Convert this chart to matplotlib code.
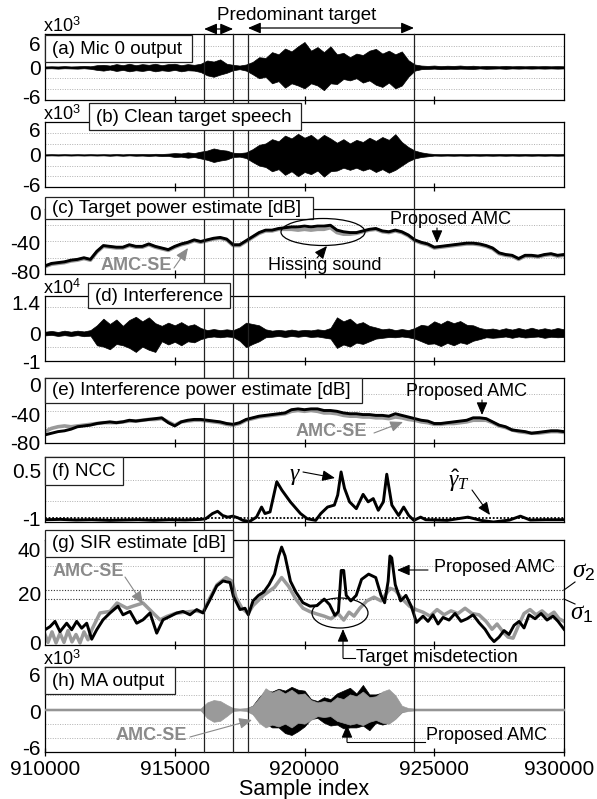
import numpy as np
import matplotlib
matplotlib.use("Agg")
import matplotlib.pyplot as plt
from matplotlib.patches import Rectangle, Ellipse, FancyArrowPatch
from matplotlib.lines import Line2D
import matplotlib.transforms as mtransforms

plt.rcParams['font.family'] = ['Liberation Sans', 'DejaVu Sans']
plt.rcParams['mathtext.fontset'] = 'custom'
plt.rcParams['mathtext.rm'] = 'Liberation Sans'
plt.rcParams['mathtext.it'] = 'Liberation Serif:italic'
plt.rcParams['mathtext.bf'] = 'Liberation Sans:bold'

# ---------------------------------------------------------------- data
sample_grid = np.arange(910000, 930001, 250)          # envelope / power sample positions
x_ticks = [910000, 915000, 920000, 925000, 930000]
x_tick_labels = ['910000', '915000', '920000', '925000', '930000']
segment_bounds = [916130, 917250, 917820, 924220]

# (a) Mic 0 output envelope (x10^3)
mic0_upper = [0.25,0.3,0.25,0.35,0.25,0.3,0.4,0.3,0.6,
              0.7,0.5,0.9,0.6,1.0,0.6,0.9,0.7,1.0,0.6,0.9,1.0,0.6,0.9,0.7,
              1.0,1.9,1.6,2.2,1.0,0.7,0.5,0.8,
              1.5,2.8,2.6,4.2,3.6,5.2,4.4,5.8,7.0,4.6,5.6,4.2,5.8,3.6,4.0,2.8,3.8,3.4,4.6,5.1,3.8,4.6,3.6,4.4,2.0,0.8,
              0.5,0.4,0.5,0.35,0.45,0.4,0.5,0.35,0.45,0.3,0.4,0.35,0.3,0.4,0.3,0.35,0.3,0.35,0.3,0.35,0.3,0.35,0.3]
mic0_lower = [0.3,0.25,0.35,0.25,0.3,0.35,0.25,0.4,0.7,
              0.9,0.6,1.0,0.7,1.1,0.8,1.0,0.7,1.1,0.8,1.0,0.7,1.1,0.8,0.9,
              1.3,2.2,2.6,2.0,1.5,0.8,0.5,0.9,
              1.9,3.0,2.6,4.4,3.8,5.6,4.4,5.0,5.8,4.4,5.0,6.3,4.4,4.6,3.2,3.6,3.0,4.2,3.6,4.8,5.4,4.2,5.8,5.0,2.6,0.9,
              0.5,0.45,0.35,0.5,0.4,0.45,0.35,0.4,0.45,0.3,0.4,0.35,0.3,0.4,0.3,0.35,0.3,0.35,0.3,0.35,0.3,0.35,0.3]

# (b) clean target speech envelope (x10^3)
clean_upper = [0.15,0.2,0.15,0.2,0.15,0.2,0.15,0.2,0.15,0.2,0.15,0.25,0.15,0.25,0.2,0.25,0.2,0.3,0.25,0.35,
               0.5,0.4,0.7,0.5,0.9,1.2,1.8,1.4,1.2,0.6,0.5,0.7,
               1.6,2.8,3.2,4.4,3.8,5.4,4.6,5.9,4.8,5.6,4.2,5.6,4.6,3.4,4.4,3.2,4.2,3.6,4.8,3.9,5.0,4.2,5.8,3.6,2.2,1.2,0.7,0.4,
               0.25,0.2,0.25,0.2,0.25,0.2,0.25,0.2,0.25,0.2,0.25,0.2,0.25,0.2,0.25,0.2,0.25,0.2,0.25,0.2,0.25]
clean_lower = [0.2,0.15,0.2,0.15,0.2,0.15,0.2,0.15,0.2,0.15,0.25,0.15,0.25,0.15,0.25,0.2,0.3,0.2,0.35,0.3,
               0.6,0.5,0.8,0.6,1.0,1.4,2.0,1.6,1.3,0.6,0.5,0.9,
               2.0,3.0,3.4,4.6,4.0,5.6,4.6,6.0,4.8,5.4,4.4,6.1,4.6,4.4,3.6,4.2,3.6,4.4,3.8,4.8,4.0,5.0,4.2,3.0,1.8,1.0,0.6,0.4,
               0.2,0.25,0.2,0.25,0.2,0.25,0.2,0.25,0.2,0.25,0.2,0.25,0.2,0.25,0.2,0.25,0.2,0.25,0.2,0.25,0.2]

# (c) target power estimate [dB]
target_amc = [-70,-67,-66,-65,-63,-62,-60,-62,-52,-45,-46,-47,-47,-44,-46,-46,-43,-46,-48,-50,
              -46,-43,-41,-38,-40,-38,-36,-35,-37,-44,-44,-39,-34,-29,-26,
              -26,-24,-23,-22,-22,-21,-22,-21,-21,-20,-26,-28,-29,-29,-27,-25,-24,-27,-28,-26,
              -28,-32,-38,-41,-43,-47,-46,-45,-44,-43,-42,-42,-43,-45,-48,-54,-56,-57,-61,-57,
              -57,-58,-56,-55,-57,-56]
target_se = [-71,-68,-67,-66,-64,-63,-61,-63,-53,-46,-47,-48,-48,-45,-47,-47,-44,-47,-49,-51,
             -47,-44,-42,-39,-41,-39,-37,-36,-38,-45,-45,-40,-35,-30,-27,
             -27,-25,-25,-25,-26,-25,-26,-25,-25,-23,-29,-31,-31,-30,-28,-26,-25,-28,-29,-27,
             -29,-33,-39,-42,-44,-48,-47,-46,-45,-44,-43,-43,-44,-46,-49,-55,-57,-58,-62,-58,
             -58,-59,-57,-56,-58,-57]

# (d) interference envelope (x10^4)
interf_upper = [0.06,0.09,0.05,0.1,0.06,0.1,0.07,0.12,
                0.3,0.55,0.35,0.52,0.28,0.5,0.62,0.45,0.6,0.38,0.28,0.4,0.3,0.42,0.28,0.34,
                0.2,0.12,0.16,0.12,0.15,0.12,0.22,0.4,0.35,0.3,0.15,
                0.1,0.13,0.1,0.14,0.1,0.13,0.11,0.15,0.12,0.2,
                0.6,0.45,0.55,0.35,0.42,0.28,0.22,0.15,0.18,0.12,0.16,0.12,
                0.2,0.32,0.28,0.45,0.35,0.48,0.38,0.46,0.32,0.3,0.2,0.15,0.18,
                0.13,0.19,0.14,0.2,0.14,0.21,0.14,0.19,0.14,0.2,0.15]
interf_lower = [0.08,0.06,0.1,0.07,0.1,0.07,0.11,0.09,
                0.45,0.5,0.6,0.4,0.45,0.55,0.7,0.5,0.62,0.7,0.3,0.42,0.32,0.45,0.3,0.34,
                0.22,0.15,0.12,0.15,0.12,0.14,0.28,0.52,0.4,0.3,0.15,
                0.13,0.1,0.14,0.1,0.13,0.1,0.14,0.12,0.16,0.2,
                0.55,0.42,0.5,0.35,0.4,0.3,0.2,0.17,0.14,0.15,0.12,0.15,
                0.2,0.3,0.4,0.38,0.48,0.36,0.45,0.34,0.4,0.28,0.22,0.15,0.17,
                0.15,0.12,0.17,0.12,0.16,0.14,0.12,0.17,0.13,0.15,0.14]

# (e) interference power estimate [dB]
interf_amc = [-70,-68,-66,-65,-63,-60,-59,-58,-56,-55,
              -54,-55,-54,-52,-53,-52,-51,-50,-49,-55,
              -59,-54,-52,-51,-51,-52,-53,-54,-56,-57,
              -55,-51,-49,-47,-46,-45,-44,-43,-39,-38,
              -39,-38,-38,-40,-40,-41,-43,-44,-44,-45,
              -45,-46,-46,-47,-44,-46,-48,-50,-52,-53,
              -56,-56,-55,-54,-53,-52,-49,-49,-50,-54,
              -58,-60,-64,-65,-66,-68,-67,-66,-65,-65,-66]
interf_se = [-66,-62,-60,-59,-60,-59,-58,-57,-56,-55,
             -55,-55,-54,-53,-53,-52,-51,-51,-50,-54,
             -58,-54,-53,-52,-52,-53,-54,-55,-57,-58,
             -56,-52,-50,-48,-47,-46,-45,-44,-41,-40,
             -41,-40,-41,-43,-43,-44,-46,-47,-47,-48,
             -48,-49,-49,-50,-48,-49,-51,-52,-54,-55,
             -57,-57,-56,-56,-55,-54,-52,-52,-52,-55,
             -59,-61,-64,-66,-67,-68,-68,-67,-66,-66,-67]

# (f) NCC
ncc_x = [910000,910600,911200,911800,912500,913000,913600,914200,914800,915400,
         916000,916194,916455,916650,916846,917042,917237,917433,917628,917889,
         918150,918346,918476,918672,918932,919128,919454,919845,920106,920432,
         920628,920889,921150,921280,921410,921541,921736,921997,922258,922453,
         922649,922844,923040,923170,923366,923627,923822,924018,924214,924475,
         924670,925500,926300,926800,927280,927900,928320,928700,929300,930000]
ncc_gamma = [-1.03,-1.02,-1.04,-1.03,-1.05,-1.04,-1.03,-1.05,-1.03,-1.04,
             -1.02,-1.0,-0.84,-0.77,-0.9,-0.95,-0.92,-0.97,-1.05,-1.08,
             -0.95,-0.64,-0.84,-0.79,0.14,-0.12,-0.48,-0.84,-1.0,-1.05,
             -0.84,-0.64,-0.58,-0.27,0.44,-0.06,-0.48,-0.69,-0.25,-0.48,
             -0.38,-0.74,-0.48,0.37,-0.58,-0.9,-0.64,-0.9,-1.05,-0.95,
             -1.03,-1.05,-0.95,-1.05,-1.1,-1.04,-0.92,-1.04,-1.03,-1.03]
ncc_threshold = -0.99

# (g) SIR estimate [dB]
sir_amc_x = [910000,910193,910385,910578,910835,911028,911221,911414,911607,911800,
             911993,912236,912505,912813,913006,913276,913534,913777,914047,914305,
             914548,914818,915076,915318,915588,915846,916089,916359,916617,916860,
             917130,917258,917515,917708,917836,918016,918228,918432,918633,918845,
             919007,919119,919250,919458,919665,919940,920213,920483,920760,920965,
             921168,921307,921415,921511,921608,921785,921993,922198,922471,922745,
             922949,923088,923223,923292,923362,923497,923705,923909,924113,924317,
             924568,924760,924953,925146,925339,925570,925801,926032,926263,926495,
             926726,926957,927150,927304,927497,927690,927882,928075,928268,928460,
             928653,928885,929116,929347,929578,929771,930000]
sir_amc = [5.8,7,9,5.1,8.3,5.8,9,6.4,8.3,2.2,
           5.8,9.6,12.2,14.8,11.5,12.8,8.3,9.6,12.2,4.5,
           9.6,10.9,12.2,12.8,11.5,13.5,12.2,17.3,22.5,24.4,
           23.8,18.6,13.5,14,11.5,16.8,18.9,20.2,23,27,
           33.9,37.3,33.9,24.3,20.2,16.1,14.8,15,17.5,15.4,
           11.3,12.7,28.4,28.4,18.9,16.8,18.9,25,27,25.7,
           18.9,16.1,24.3,33.9,33.2,23,16.8,18.9,14.8,8.6,
           11.0,9.0,11.5,8.0,10.5,9.5,12.0,9.0,10.0,11.5,
           8.5,6.0,3.0,1.3,3.0,5.5,4.0,7.5,9.0,6.5,
           11.5,10.0,12.0,9.5,11.0,9.0,6.0]
sir_se_x = [910000,910116,910270,910424,910578,910732,910886,911040,911195,911349,
            911503,911657,911811,912120,912505,912775,913160,913392,913777,914162,
            914432,914702,915010,915396,915781,916089,916359,916629,916976,917207,
            917361,917592,917824,918016,918432,918845,919119,919392,919665,919943,
            920213,920483,920753,921022,921292,921512,921716,921909,922129,922402,
            922680,922949,923296,923497,923770,924044,924317,924568,924838,925108,
            925377,925647,925917,926187,926456,926726,926996,927227,927420,927651,
            927844,928037,928229,928460,928692,928923,929154,929385,929616,929809,930000]
sir_se = [4,1,5,0.8,4.5,1,5.5,1.2,4,0.8,
          5,2,6,12.2,12.8,16,14,14.8,16,12.2,
          9.6,10.9,12,12.5,13,12.5,18,23,25.7,24.3,
          18,14,12,15,19,22,25.7,22.3,17.5,14,
          12.7,11.8,11,10,12,9.5,12.5,11,14,16.8,
          18.2,16.8,21.6,20.9,17.5,14.8,13.4,12.5,11,13.5,
          11.5,13,12,14,12,11.5,9,6,8,5,
          3,2.6,7,12,13.5,11.5,13,11,12.5,10,9]
sigma_1 = 17.7
sigma_2 = 20.8

# (h) MA output envelopes (x10^3)
ma_se_upper = [0.2]*25 + [1.5,2.0,1.8,1.0,0.3,0.2,0.3,
               0.8,2.4,4.5,3.6,4.2,3.4,4.2,3.2,3.4,2.0,1.5,1.8,1.5,2.6,2.2,3.2,2.8,3.8,2.6,2.8,3.8,4.3,3.0,0.8,0.3] + [0.2]*24
ma_se_lower = [0.2]*25 + [1.8,2.6,2.4,1.4,0.3,0.2,0.3,
               1.0,2.8,3.8,3.2,3.6,3.0,3.8,2.8,3.0,2.2,1.4,1.6,1.4,2.4,2.8,3.2,2.9,3.3,2.6,2.2,2.8,3.0,2.0,0.6,0.3] + [0.2]*24
ma_amc_upper = [0.1]*25 + [0.8,1.2,1.0,0.6,0.1,0.1,0.1,
                0.8,2.6,4.0,3.8,4.4,4.0,4.8,4.2,4.0,2.2,1.8,2.6,2.2,3.4,4.0,4.6,3.4,5.2,3.2,3.2,3.6,3.4,1.8,0.5,0.1] + [0.1]*24
ma_amc_lower = [0.1]*25 + [0.9,1.4,1.2,0.7,0.1,0.1,0.1,
                0.8,2.2,3.0,3.8,3.8,5.0,5.4,4.6,3.6,2.0,1.8,2.8,3.4,3.2,4.0,3.8,3.8,3.4,4.4,2.8,3.2,2.8,1.8,0.5,0.1] + [0.1]*24

# ---------------------------------------------------------------- layout
W, H = 597, 799
LEFT, RIGHT = 45, 564
BLACK = 'black'
GRAY = '#9a9a9a'
GRAY_TXT = '#8a8a8a'
GRID = '#b0b0b0'

fig = plt.figure(figsize=(W / 100, H / 100), dpi=100)
pix = mtransforms.Affine2D().scale(1.0 / W, -1.0 / H).translate(0, 1) + fig.transFigure


def add_ax(top, bottom):
    ax = fig.add_axes([LEFT / W, 1 - bottom / H, (RIGHT - LEFT) / W, (bottom - top) / H])
    ax.set_xlim(910000, 930000)
    for s in ax.spines.values():
        s.set_linewidth(0.9)
    ax.set_xticks([915000, 920000, 925000])
    ax.tick_params(axis='x', direction='inout', length=6, width=0.9, labelbottom=False)
    ax.tick_params(axis='y', length=0, labelsize=15, pad=3)
    return ax


def hgrid(ax, vals, color=GRID, lw=0.7):
    for v in vals:
        ax.axhline(v, color=color, lw=lw, ls=(0, (1, 1.5)), zorder=1)


ax_a = add_ax(34, 100)
ax_b = add_ax(122, 187)
ax_c = add_ax(209, 274)
ax_d = add_ax(296, 361)
ax_e = add_ax(378, 443)
ax_f = add_ax(457, 522)
ax_g = add_ax(540, 645)
ax_h = add_ax(667, 752)

# (a)
ax_a.set_ylim(-9, 9.2)
hgrid(ax_a, [-6, -3, 3, 6])
ax_a.fill_between(sample_grid, -np.array(mic0_lower), np.array(mic0_upper), color=BLACK, lw=0.5, zorder=2)
ax_a.set_yticks([-7.9, 0, 6.6], ['-6', '0', '6'])

# (b)
ax_b.set_ylim(-9, 9.2)
hgrid(ax_b, [-6, -3, 3, 6])
ax_b.fill_between(sample_grid, -np.array(clean_lower), np.array(clean_upper), color=BLACK, lw=0.5, zorder=2)
ax_b.set_yticks([-8.4, 0, 7.0], ['-6', '0', '6'])

# (c)
ax_c.set_ylim(-80, 0)
hgrid(ax_c, [-20, -40, -60])
ax_c.plot(sample_grid, target_se, color=GRAY, lw=2.6, zorder=2)
ax_c.plot(sample_grid, target_amc, color=BLACK, lw=2.1, zorder=3)
ax_c.set_yticks([-77.5, -41.8, -3.7], ['-80', '-40', '0'])

# (d)
ax_d.set_ylim(-1, 1.4)
hgrid(ax_d, [-0.5, 1.0])
ax_d.fill_between(sample_grid, -np.array(interf_lower), np.array(interf_upper), color=BLACK, lw=0.5, zorder=2)
ax_d.set_yticks([-1.04, 0, 1.14], ['-1', '0', '1.4'])

# (e)
ax_e.set_ylim(-80, 0)
hgrid(ax_e, [-20, -40, -60])
ax_e.plot(sample_grid, interf_se, color=GRAY, lw=2.6, zorder=2)
ax_e.plot(sample_grid, interf_amc, color=BLACK, lw=2.1, zorder=3)
ax_e.set_yticks([-78.8, -45.5, -8.6], ['-80', '-40', '0'])

# (f)
ax_f.set_ylim(-1.1, 0.9)
hgrid(ax_f, [0.2, -0.45])
ax_f.axhline(ncc_threshold, color=BLACK, lw=1.3, ls=(0, (1, 1)), zorder=2)
ax_f.plot(ncc_x, ncc_gamma, color=BLACK, lw=2.1, zorder=3)
ax_f.set_yticks([-0.98, 0.5], ['-1', '0.5'])

# (g)
ax_g.set_ylim(0, 40)
hgrid(ax_g, [10, 30])
ax_g.axhline(sigma_1, color='#333333', lw=0.8, ls=(0, (1, 1.5)), zorder=1)
ax_g.axhline(sigma_2, color='#333333', lw=0.8, ls=(0, (1, 1.5)), zorder=1)
ax_g.plot(sir_se_x, sir_se, color=GRAY, lw=2.5, zorder=2)
ax_g.plot(sir_amc_x, sir_amc, color=BLACK, lw=2.1, zorder=3)
ax_g.set_yticks([1.1, 19.8, 36.2], ['0', '20', '40'])

# (h)
ax_h.set_ylim(-9, 9)
hgrid(ax_h, [-6, -3, 3, 6])
ax_h.fill_between(sample_grid, -np.array(ma_amc_lower), np.array(ma_amc_upper), color=BLACK, lw=0.5, zorder=2)
ax_h.fill_between(sample_grid, -np.array(ma_se_lower), np.array(ma_se_upper), color=GRAY, lw=0.5, zorder=3)
ax_h.set_yticks([-8.1, -0.5, 7.5], ['-6', '0', '6'])
ax_h.set_xticks(x_ticks, x_tick_labels)
ax_h.tick_params(axis='x', labelbottom=True, labelsize=15, pad=3)
last = ax_h.get_xticklabels()[-1]
last.set_transform(last.get_transform() + mtransforms.ScaledTranslation(-0.045, 0, fig.dpi_scale_trans))

# ---------------------------------------------------------------- overlays
vtrans = mtransforms.blended_transform_factory(ax_h.transData, pix)
for b in segment_bounds:
    fig.add_artist(Line2D([b, b], [34, 752], transform=vtrans, color='#222222', lw=0.9, zorder=3))

head = '<|-|>,head_length=0.7,head_width=0.3'
fig.add_artist(FancyArrowPatch((segment_bounds[0], 29), (segment_bounds[1], 29), transform=vtrans,
                               arrowstyle=head, mutation_scale=11, lw=0.9, color='k', shrinkA=0, shrinkB=0))
fig.add_artist(FancyArrowPatch((segment_bounds[2], 28), (segment_bounds[3], 28), transform=vtrans,
                               arrowstyle=head, mutation_scale=11, lw=0.9, color='k', shrinkA=0, shrinkB=0))


def ptext(x, y, s, **kw):
    kw.setdefault('fontsize', 13.5)
    kw.setdefault('va', 'center')
    kw.setdefault('ha', 'center')
    return fig.text(x / W, 1 - y / H, s, **kw)


def arrow(p0, p1, color='k', lw=0.8, ms=11):
    fig.add_artist(FancyArrowPatch(p0, p1, transform=pix,
                                   arrowstyle='-|>,head_length=0.7,head_width=0.3',
                                   mutation_scale=ms, color=color, lw=lw, shrinkA=0, shrinkB=0, zorder=6))


def seg(xs, ys, color='k', lw=0.8):
    fig.add_artist(Line2D(xs, ys, transform=pix, color=color, lw=lw, zorder=6))


ptext(297, 16, 'Predominant target')

# panel label boxes
boxes = [('(a) Mic 0 output', 45, 35, 192, 62),
         ('(b) Clean target speech', 89, 103, 301, 130),
         ('(c) Target power estimate [dB]', 45, 197, 313, 219),
         ('(d) Interference', 88, 283, 230, 308),
         ('(e) Interference power estimate [dB]', 45, 378, 362, 403),
         ('(f) NCC', 45, 457, 123, 485),
         ('(g) SIR estimate [dB]', 45, 530, 233, 557),
         ('(h) MA output', 45, 667, 175, 694)]
for s, x0, y0, x1, y1 in boxes:
    fig.add_artist(Rectangle((x0, y0), x1 - x0, y1 - y0, transform=pix, facecolor='white',
                             edgecolor='#222222', lw=0.9, zorder=5))
    ptext(x0 + 7, (y0 + y1) / 2 + 0.5, s, ha='left', zorder=7)

# exponent labels
for s, yb in [(r'x10$^3$', 32), (r'x10$^3$', 120), (r'x10$^4$', 294), (r'x10$^3$', 665)]:
    ptext(43, yb, s, ha='left', va='baseline', fontsize=13)

# (c) annotations
ptext(136, 265, 'AMC-SE', color=GRAY_TXT, fontweight='bold', fontsize=13)
arrow((174, 268), (188, 248), color=GRAY_TXT)
fig.add_artist(Ellipse((323, 232), 84, 27, transform=pix, fill=False, ec='k', lw=0.9, zorder=6))
ptext(325, 265, 'Hissing sound', fontsize=13)
arrow((317, 258), (327, 246))
ptext(450, 220, 'Proposed AMC', fontsize=13)
arrow((437, 228), (437, 243))

# (e) annotations
ptext(331, 432, 'AMC-SE', color=GRAY_TXT, fontweight='bold', fontsize=13)
arrow((374, 433), (403, 422), color=GRAY_TXT)
ptext(467, 392, 'Proposed AMC', fontsize=13)
arrow((482, 400), (482, 415))

# (f) annotations
ptext(295, 476, r'$\gamma$', fontsize=17)
arrow((303, 472), (335, 478))
ptext(459, 481, r'$\hat{\gamma}_T$', fontsize=17)
arrow((472, 490), (490, 515))

# (g) annotations
ptext(88, 572, 'AMC-SE', color=GRAY_TXT, fontweight='bold', fontsize=13)
arrow((125, 577), (143, 604), color=GRAY_TXT)
ptext(494, 567, 'Proposed AMC', fontsize=13)
arrow((428, 570), (397, 570))
ptext(584, 571, r'$\sigma_2$', fontsize=18)
seg([575, 564], [582, 590])
ptext(582, 613, r'$\sigma_1$', fontsize=18)
seg([564, 575], [599, 604])
fig.add_artist(Ellipse((340, 613), 56, 30, transform=pix, fill=False, ec='k', lw=0.9, zorder=6))
ptext(356, 657, 'Target misdetection', ha='left')
seg([355, 343], [658, 658])
arrow((343, 658), (343, 629))

# (h) annotations
ptext(151, 736, 'AMC-SE', color=GRAY_TXT, fontweight='bold', fontsize=13)
arrow((190, 737), (252, 720), color=GRAY_TXT)
ptext(426, 736, 'Proposed AMC', ha='left', fontsize=13)
seg([425, 347], [742, 742])
arrow((347, 742), (347, 725))

ptext(304, 789, 'Sample index', fontsize=15.5)

fig.savefig('out.png', dpi=100)
